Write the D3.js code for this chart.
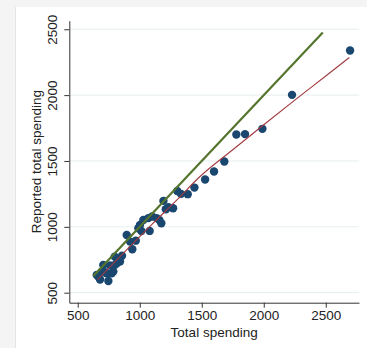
<!DOCTYPE html>
<meta charset="utf-8">
<style>
body { margin: 0; background: #fff; }
.axis path, .axis line { stroke: #333; stroke-width: 1px; }
.axis text { font: 13.5px "Liberation Sans", Arial, sans-serif; fill: #222; }
.grid line { stroke: #e6eeee; stroke-width: 1px; }
.title { font: 13.5px "Liberation Sans", Arial, sans-serif; fill: #222; }
</style>
<svg width="367" height="348"></svg>
<script src="https://cdn.jsdelivr.net/npm/d3@7/dist/d3.min.js"></script>
<script>

// scatter: total spending vs reported total spending
var spendX = [2696, 2228, 1989, 1849, 1779, 1682, 1599, 1527, 1441, 1387, 1333, 1302, 1269, 1231, 1210, 1191,
              1174, 1158, 1137, 1100, 1069, 1029, 1002, 989, 1013, 1080, 968, 940, 922, 895, 857,
              841, 828, 814, 801, 798, 787, 774, 762, 747, 734, 720, 706, 693, 680, 666, 653];
var reportY = [2339, 2002, 1744, 1704, 1701, 1496, 1420, 1359, 1298, 1248, 1250, 1272, 1141, 1149, 1134, 1197,
               1027, 1052, 1066, 1078, 1066, 1052, 1015, 989, 968, 969, 895, 830, 888, 938, 781,
               736, 749, 723, 711, 774, 660, 647, 707, 589, 647, 655, 711, 660, 600, 622, 635];

// fitted curve
var fitX = [660, 900, 1100, 1300, 1486, 1750, 2000, 2250, 2500, 2690];
var fitY = [600, 830, 1020, 1205, 1382, 1585, 1775, 1962, 2145, 2286];

// 45 degree line
var eqX = [626, 2476];

var xTicks = [500, 1000, 1500, 2000, 2500],
    yTicks = [500, 1000, 1500, 2000, 2500];

var svg = d3.select("svg");

// page frame strips
svg.append("rect").attr("x", 0).attr("y", 0).attr("width", 367).attr("height", 7).attr("fill", "#f4f4f4");
svg.append("rect").attr("x", 0).attr("y", 0).attr("width", 15).attr("height", 348).attr("fill", "#f4f4f4");
svg.append("line").attr("x1", 15.5).attr("x2", 15.5).attr("y1", 7).attr("y2", 348).attr("stroke", "#e4e4e4");

var margin = {top: 20.7, left: 69.3},
    width = 289.7,
    height = 282,
    g = svg.append("g").attr("transform", "translate(" + margin.left + "," + margin.top + ")");

var x = d3.scaleLinear().domain([432, 2768]).range([0, width]),
    y = d3.scaleLinear().domain([424, 2565]).range([height, 0]);

g.append("g")
    .attr("class", "grid")
  .selectAll("line")
  .data(yTicks)
  .enter().append("line")
    .attr("x1", 0)
    .attr("x2", width)
    .attr("y1", function(d) { return y(d); })
    .attr("y2", function(d) { return y(d); });

g.append("g")
    .attr("class", "axis axis--x")
    .attr("transform", "translate(0," + height + ")")
    .call(d3.axisBottom(x).tickValues(xTicks).tickFormat(d3.format("d")).tickSize(5).tickSizeOuter(0).tickPadding(3));

g.append("g")
    .attr("class", "axis axis--y")
    .call(d3.axisLeft(y).tickValues(yTicks).tickFormat(d3.format("d")).tickSize(5).tickSizeOuter(0).tickPadding(0))
  .selectAll("text")
    .attr("transform", "rotate(-90)")
    .attr("x", 0)
    .attr("y", -12)
    .attr("dy", 0)
    .style("text-anchor", "middle");

g.selectAll(".dot")
  .data(spendX.map(function(v, i) { return [v, reportY[i]]; }))
  .enter().append("circle")
    .attr("class", "dot")
    .attr("cx", function(d) { return x(d[0]); })
    .attr("cy", function(d) { return y(d[1]); })
    .attr("r", 4.2)
    .attr("fill", "#1a476f");

var line = d3.line()
    .curve(d3.curveMonotoneX)
    .x(function(d) { return x(d[0]); })
    .y(function(d) { return y(d[1]); });

g.append("path")
    .datum(fitX.map(function(v, i) { return [v, fitY[i]]; }))
    .attr("fill", "none")
    .attr("stroke", "#a03a40")
    .attr("stroke-width", 1.1)
    .attr("d", line);

g.append("path")
    .datum(eqX.map(function(v) { return [v, v]; }))
    .attr("fill", "none")
    .attr("stroke", "#55752f")
    .attr("stroke-width", 2.2)
    .attr("d", line);

svg.append("text")
    .attr("class", "title")
    .attr("x", margin.left + width / 2)
    .attr("y", 337)
    .attr("text-anchor", "middle")
    .text("Total spending");

svg.append("text")
    .attr("class", "title")
    .attr("transform", "translate(40.5," + (margin.top + height / 2) + ") rotate(-90)")
    .attr("text-anchor", "middle")
    .text("Reported total spending");

</script>
